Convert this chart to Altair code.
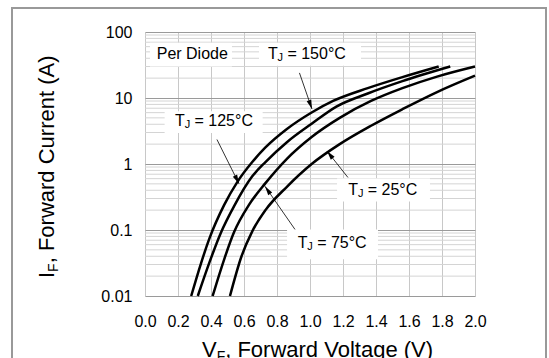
import math
import altair as alt
import pandas as pd

FONT = "Liberation Sans"

# ---- curve data ----
v150 = [0.28, 0.34, 0.39, 0.48, 0.56, 0.65, 0.73, 0.86, 1.01, 1.14, 1.35, 1.56, 1.78]
i150 = [0.01, 0.0316, 0.074, 0.24, 0.537, 1.07, 1.78, 3.39, 6.03, 9.02, 14.1, 20.7, 30.0]
v125 = [0.32, 0.39, 0.46, 0.54, 0.65, 0.73, 0.86, 1.01, 1.16, 1.35, 1.56, 1.85]
i125 = [0.01, 0.032, 0.091, 0.23, 0.65, 1.07, 2.14, 4.07, 7.41, 11.7, 18.0, 30.0]
v75 = [0.41, 0.48, 0.54, 0.63, 0.73, 0.86, 1.01, 1.18, 1.37, 1.56, 1.77, 2.0]
i75 = [0.01, 0.036, 0.093, 0.24, 0.513, 1.20, 2.57, 5.01, 9.02, 14.1, 21.1, 30.0]
v25 = [0.515, 0.585, 0.65, 0.73, 0.86, 1.01, 1.18, 1.37, 1.56, 1.77, 2.0]
i25 = [0.01, 0.040, 0.0955, 0.20, 0.452, 1.0, 2.0, 3.8, 6.76, 12.3, 21.8]

# ---- axes ----
x_ticks = [0.0, 0.2, 0.4, 0.6, 0.8, 1.0, 1.2, 1.4, 1.6, 1.8, 2.0]
y_major = [0.01, 0.1, 1, 10, 100]
y_minor = [0.02, 0.03, 0.04, 0.05, 0.06, 0.07, 0.08, 0.09,
           0.2, 0.3, 0.4, 0.5, 0.6, 0.7, 0.8, 0.9,
           2, 3, 4, 5, 6, 7, 8, 9,
           20, 30, 40, 50, 60, 70, 80, 90]

# ---- annotations ----
lab_temp = ["= 150°C", "= 125°C", "= 75°C", "= 25°C"]
lab_x = [0.745, 0.182, 0.925, 1.232]
lab_y = [47.0, 4.44, 0.0643, 0.402]
box_x1 = [0.691, 0.119, 0.861, 1.164]
box_x2 = [1.309, 0.713, 1.412, 1.727]
box_y1 = [68.9, 6.29, 0.102, 0.604]
box_y2 = [30.8, 2.96, 0.0359, 0.271]
arr_x1 = [0.936, 0.436, 0.909, 1.230]
arr_y1 = [24.0, 2.35, 0.102, 0.625]
arr_x2 = [1.012, 0.570, 0.727, 1.103]
arr_y2 = [6.8, 0.50, 0.46, 1.57]

note_text = ["Per Diode"]
note_x = [0.071]
note_y = [47.0]
note_box_x1 = [0.03]
note_box_x2 = [0.527]
note_box_y1 = [68.9]
note_box_y2 = [29.9]

W, H = 330, 264
XS = alt.Scale(domain=[0, 2], nice=False)
YS = alt.Scale(type="log", domain=[0.01, 100], nice=False)

XA = alt.Axis(values=x_ticks, format=".1f", title=None, grid=True,
              gridColor="#c8c8c8", gridWidth=1, ticks=False, domain=False,
              labelFontSize=16, labelFont=FONT, labelColor="black",
              labelPadding=17, labelFlush=False)
YA = alt.Axis(values=y_major, format="~g", title=None, grid=True,
              gridColor="#9a9a9a", gridWidth=1, ticks=False, domain=False,
              labelFontSize=16, labelFont=FONT, labelColor="black",
              labelPadding=13, labelFlush=False)

curves = pd.DataFrame(
    [{"v": v, "i": i, "t": "150"} for v, i in zip(v150, i150)]
    + [{"v": v, "i": i, "t": "125"} for v, i in zip(v125, i125)]
    + [{"v": v, "i": i, "t": "75"} for v, i in zip(v75, i75)]
    + [{"v": v, "i": i, "t": "25"} for v, i in zip(v25, i25)]
)

labels = pd.DataFrame({
    "txt": lab_temp, "x": lab_x, "y": lab_y,
    "bx1": box_x1, "bx2": box_x2, "by1": box_y1, "by2": box_y2,
})
notes = pd.DataFrame({
    "txt": note_text, "x": note_x, "y": note_y,
    "bx1": note_box_x1, "bx2": note_box_x2, "by1": note_box_y1, "by2": note_box_y2,
})
boxes = pd.concat([labels, notes], ignore_index=True)

ang = []
for xa, ya, xb, yb in zip(arr_x1, arr_y1, arr_x2, arr_y2):
    dx = (xb - xa) * W / 2.0
    dy = -(math.log10(yb) - math.log10(ya)) * H / 4.0
    ang.append(math.degrees(math.atan2(dx, -dy)) % 360)
arrows = pd.DataFrame({"x1": arr_x1, "y1": arr_y1, "x2": arr_x2, "y2": arr_y2, "ang": ang})

minor = pd.DataFrame({"m": y_minor})

curve_layer = alt.Chart(curves).mark_line(color="black", strokeWidth=2.5,
                                          interpolate="monotone").encode(
    x=alt.X("v:Q", scale=XS, axis=XA),
    y=alt.Y("i:Q", scale=YS, axis=YA),
    detail="t:N",
    order="v:Q",
)

minor_layer = alt.Chart(minor).mark_rule(color="#d4d4d4", strokeWidth=1).encode(
    y=alt.Y("m:Q", scale=YS, axis=YA),
)

box_layer = alt.Chart(boxes).mark_rect(fill="white").encode(
    x=alt.X("bx1:Q", scale=XS, axis=XA), x2="bx2:Q",
    y=alt.Y("by1:Q", scale=YS, axis=YA), y2="by2:Q",
)

arrow_lines = alt.Chart(arrows).mark_rule(color="black", strokeWidth=0.8).encode(
    x=alt.X("x1:Q", scale=XS, axis=XA), x2="x2:Q",
    y=alt.Y("y1:Q", scale=YS, axis=YA), y2="y2:Q",
)
arrow_heads = alt.Chart(arrows).mark_point(
    shape="M0,0L-0.6,2.3L0.6,2.3Z", filled=True, color="black", size=64, opacity=1
).encode(
    x=alt.X("x2:Q", scale=XS, axis=XA),
    y=alt.Y("y2:Q", scale=YS, axis=YA),
    angle=alt.Angle("ang:Q", scale=None),
)

def txt(df, field, size, dx=0, dy=0):
    return alt.Chart(df).mark_text(align="left", baseline="middle", font=FONT,
                                   fontSize=size, color="black", dx=dx, dy=dy).encode(
        x=alt.X("x:Q", scale=XS, axis=XA),
        y=alt.Y("y:Q", scale=YS, axis=YA),
        text=field,
    )

labels_T = txt(labels.assign(T="T"), "T:N", 16)
labels_J = txt(labels.assign(J="J"), "J:N", 11, dx=9.6, dy=4)
labels_rest = txt(labels, "txt:N", 16, dx=19.5)
notes_text = txt(notes, "txt:N", 16)

one = pd.DataFrame({"a": [0]})

def title_piece(s, size, x, y, angle=0, dx=0, dy=0):
    return alt.Chart(one).mark_text(text=s, align="left", baseline="alphabetic",
                                    font=FONT, fontSize=size, color="black",
                                    angle=angle, dx=dx, dy=dy).encode(
        x=alt.value(x), y=alt.value(y))

xt_x, xt_y = 57, 325
x_title = (title_piece("V", 22, xt_x, xt_y)
           + title_piece("F", 14, xt_x, xt_y, dx=14.7, dy=4)
           + title_piece(", Forward Voltage (V)", 22, xt_x, xt_y, dx=23.2))
yt_x, yt_y = -91.5, 246
y_title = (title_piece("I", 22, yt_x, yt_y, angle=270)
           + title_piece("F", 14, yt_x, yt_y, angle=270, dx=6.1, dy=4)
           + title_piece(", Forward Current (A)", 22, yt_x, yt_y, angle=270, dx=14.7))

frame = alt.Chart(one).mark_rect(fill=None, stroke="#999999", strokeWidth=2).encode(
    x=alt.value(-133), x2=alt.value(401), y=alt.value(-24), y2=alt.value(340))

chart = alt.layer(
    minor_layer, box_layer, curve_layer, arrow_lines, arrow_heads,
    labels_T, labels_J, labels_rest, notes_text, x_title, y_title, frame,
).properties(
    width=W, height=H,
    autosize=alt.AutoSizeParams(type="none"),
    padding={"left": 145, "top": 32, "right": 74, "bottom": 62},
    background="white",
).configure_view(stroke=None)

chart.save("out.html", embed_options={"renderer": "svg", "actions": False})
